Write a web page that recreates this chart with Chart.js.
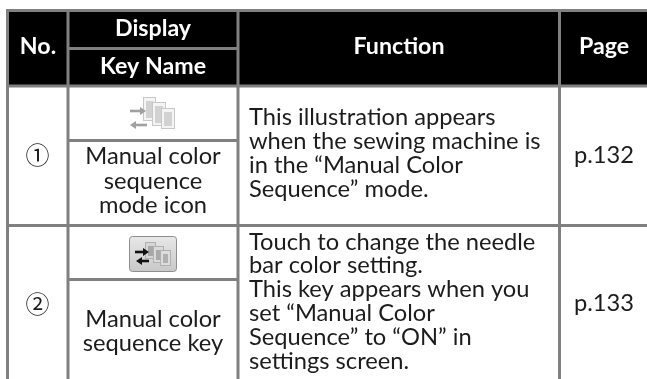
<!DOCTYPE html>
<html>
<head>
<meta charset="utf-8">
<style>
  html, body { margin: 0; padding: 0; background: #fff; }
  #wrap { width: 647px; height: 379px; }
</style>
<script src="https://cdn.jsdelivr.net/npm/chart.js@4"></script>
</head>
<body>
<div id="wrap"><canvas id="manualTable"></canvas></div>
<script>
// table content
var headNo = "No.";
var headDisplay = "Display";
var headKey = "Key Name";
var headFunction = "Function";
var headPage = "Page";
var rowNumbers = ["①", "②"];
var keyNames = [
  ["Manual color", "sequence", "mode icon"],
  ["Manual color", "sequence key"]
];
var functionTexts = [
  ["This illustration appears", "when the sewing machine is", "in the “Manual Color", "Sequence” mode."],
  ["Touch to change the needle", "bar color setting.", "This key appears when you", "set “Manual Color", "Sequence” to “ON” in", "settings screen."]
];
var pages = ["p.132", "p.133"];

// layout in picture pixels, used as values on the hidden axes
var vLines = [7.5, 68, 238, 559.5];
var hFull = [10.5, 86, 225.5];
var hInner = [48.5, 140.5, 279.5];
var keyBase = [[164, 189, 213], [326.5, 350.5]];
var funcBase = [[125, 148.5, 173, 197], [250, 273, 297, 321, 345, 368.5]];
var pageBase = [163, 311];
var numBase = [164, 313];

var bodyFont = '23.7px Lato';
var boldFont = 'bold 23.2px Lato';
var inkColor = '#1c1c1c';

var tablePlugin = {
  id: 'tablePlugin',
  afterDraw: function (chart) {
    var c = chart.ctx, sx = chart.scales.x, sy = chart.scales.y;
    var X = function (v) { return sx.getPixelForValue(v); };
    var Y = function (v) { return sy.getPixelForValue(v); };

    c.save();
    c.fillStyle = '#000';
    c.fillRect(X(vLines[0]), Y(hFull[0]), X(647) - X(vLines[0]), Y(hFull[1]) - Y(hFull[0]));

    c.strokeStyle = '#808080';
    c.lineWidth = 3;
    function line(x1, y1, x2, y2) {
      c.beginPath();
      c.moveTo(X(x1), Y(y1));
      c.lineTo(X(x2), Y(y2));
      c.stroke();
    }
    hFull.forEach(function (y) { line(6, y, 647, y); });
    hInner.forEach(function (y) { line(vLines[1], y, vLines[2], y); });
    vLines.forEach(function (x) { line(x, 9, x, 379); });

    function text(s, x, y, font, color, align) {
      c.font = font;
      c.fillStyle = color;
      c.textAlign = align || 'center';
      c.textBaseline = 'alphabetic';
      c.fillText(s, X(x), Y(y));
    }

    text(headNo, 38, 54, boldFont, '#fff');
    text(headDisplay, 153, 36, boldFont, '#fff');
    text(headKey, 153, 74, boldFont, '#fff');
    text(headFunction, 399, 54, boldFont, '#fff');
    text(headPage, 604, 54, boldFont, '#fff');

    rowNumbers.forEach(function (n, i) {
      text(n, 37.5, numBase[i], '24px "Noto Sans CJK JP"', inkColor);
      keyNames[i].forEach(function (s, j) { text(s, 153, keyBase[i][j], bodyFont, inkColor); });
      functionTexts[i].forEach(function (s, j) { text(s, 249, funcBase[i][j], bodyFont, inkColor, 'left'); });
      text(pages[i], 604, pageBase[i], bodyFont, inkColor);
    });

    c.filter = 'blur(0.5px)';
    drawIcon(c, X(0), Y(0));
    drawButton(c, X(0), Y(0));
    c.restore();
  }
};

function sheet(c, x, y, w, h, fill, edge, inner) {
  c.fillStyle = fill;
  c.strokeStyle = edge;
  c.lineWidth = 1;
  c.fillRect(x, y, w, h);
  c.strokeRect(x + 0.5, y + 0.5, w - 1, h - 1);
  c.fillStyle = inner;
  c.fillRect(x + 3, y + 4, w - 6, h - 7);
}

function arrow(c, x1, x2, y, color) {
  var d = x2 > x1 ? -1 : 1;
  c.strokeStyle = color;
  c.fillStyle = color;
  c.lineWidth = 2.6;
  c.beginPath();
  c.moveTo(x1, y);
  c.lineTo(x2 + d * 3, y);
  c.stroke();
  c.beginPath();
  c.moveTo(x2, y);
  c.lineTo(x2 + d * 6, y - 4);
  c.lineTo(x2 + d * 6, y + 4);
  c.closePath();
  c.fill();
}

// status icon of row 1, drawn in picture pixels from origin ox, oy
function drawIcon(c, ox, oy) {
  var edge = '#c8c8c8', fill = '#f4f4f4', inner = '#d2d2d2';
  sheet(c, ox + 143, oy + 97, 13, 24, fill, edge, inner);
  sheet(c, ox + 152, oy + 102, 14, 24, fill, edge, inner);
  sheet(c, ox + 161, oy + 108, 14, 21, fill, edge, inner);
  arrow(c, ox + 130, ox + 146, oy + 111, '#a0a0a0');
  arrow(c, ox + 147, ox + 130, oy + 125, '#a0a0a0');
}

// key of row 2
function drawButton(c, ox, oy) {
  var x = ox + 129, y = oy + 236, w = 48, h = 36;
  var g = c.createLinearGradient(0, y, 0, y + h);
  g.addColorStop(0, '#e8e8e8');
  g.addColorStop(1, '#c8c8c8');
  c.fillStyle = g;
  c.strokeStyle = '#8e8e8e';
  c.lineWidth = 1;
  c.beginPath();
  c.roundRect(x + 0.5, y + 0.5, w - 1, h - 1, 3);
  c.fill();
  c.stroke();
  sheet(c, ox + 145, oy + 242, 11, 17, '#d6d6d6', '#b0b0b0', '#a8a8a8');
  sheet(c, ox + 153, oy + 246, 11, 17, '#dadada', '#b0b0b0', '#aaaaaa');
  sheet(c, ox + 160, oy + 250, 11, 16, '#dcdcdc', '#b0b0b0', '#b0b0b0');
  arrow(c, ox + 135, ox + 149, oy + 252, '#111');
  arrow(c, ox + 149, ox + 136, oy + 261, '#111');
}

new Chart(document.getElementById('manualTable').getContext('2d'), {
  type: 'scatter',
  data: { datasets: [{ data: [] }] },
  options: {
    responsive: true,
    maintainAspectRatio: false,
    animation: false,
    layout: { padding: 0 },
    plugins: { legend: { display: false }, tooltip: { enabled: false } },
    scales: {
      x: { type: 'linear', min: 0, max: 647, display: false },
      y: { type: 'linear', min: 0, max: 379, reverse: true, display: false }
    }
  },
  plugins: [tablePlugin]
});
</script>
</body>
</html>
